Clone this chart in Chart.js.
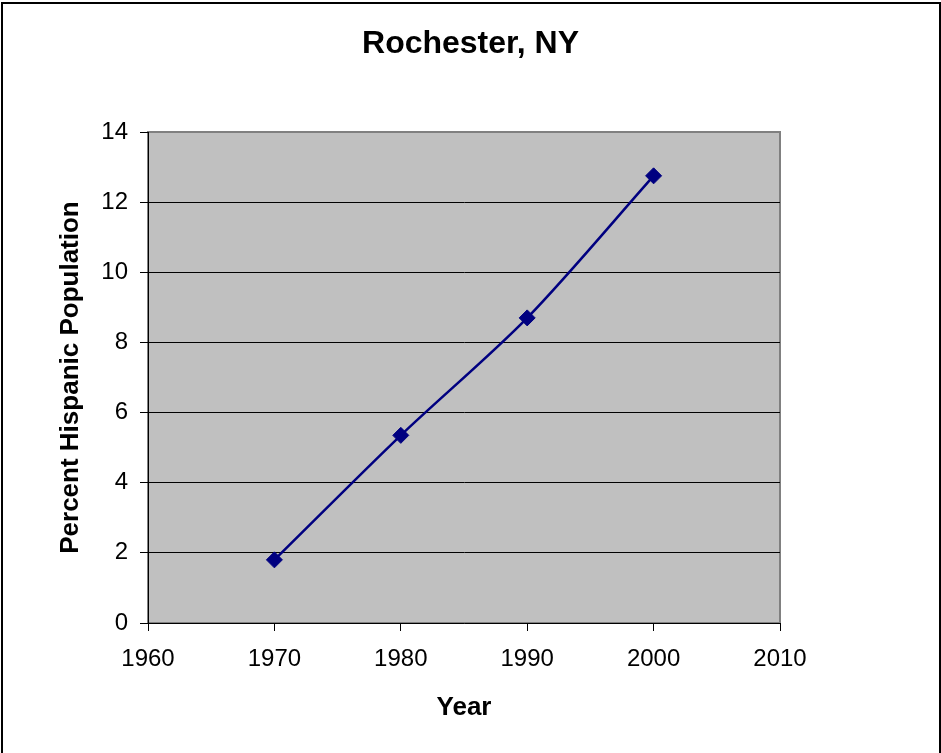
<!DOCTYPE html>
<html>
<head>
<meta charset="utf-8">
<script src="https://cdn.jsdelivr.net/npm/chart.js@4/dist/chart.umd.min.js"></script>
<style>
  html, body { margin: 0; padding: 0; background: #fff; }
  #wrap { width: 941px; height: 753px; position: relative; }
</style>
</head>
<body>
<div id="wrap"><canvas id="c" width="941" height="753"></canvas></div>
<script>
const years = [1970, 1980, 1990, 2000];
const percentHispanic = [1.8, 5.35, 8.7, 12.75];
const xTickLabels = ['1960', '1970', '1980', '1990', '2000', '2010'];
const yTickLabels = ['0', '2', '4', '6', '8', '10', '12', '14'];

const FONT = "'Liberation Sans', Arial, sans-serif";

const frame = {
  id: 'frame',
  beforeDraw(chart) {
    const {ctx, chartArea: a} = chart;
    ctx.save();
    ctx.fillStyle = '#C0C0C0';
    ctx.fillRect(a.left, a.top, a.right - a.left, a.bottom - a.top);
    ctx.strokeStyle = '#808080';
    ctx.lineWidth = 2;
    ctx.strokeRect(a.left, a.top, a.right - a.left, a.bottom - a.top);
    ctx.restore();
  },
  afterDraw(chart) {
    const ctx = chart.ctx;
    ctx.save();
    ctx.fillStyle = '#000';
    ctx.fillRect(1, 2, 2, 760);
    ctx.fillRect(1, 2, 940, 2);
    ctx.fillRect(939, 2, 2, 760);
    ctx.restore();
  }
};

new Chart(document.getElementById('c'), {
  type: 'scatter',
  data: {
    datasets: [{
      data: years.map((y, i) => ({x: y, y: percentHispanic[i]})),
      showLine: true,
      borderColor: '#000080',
      backgroundColor: '#000080',
      borderWidth: 2.5,
      tension: 0.3,
      pointStyle: 'rectRot',
      pointRadius: 8,
      pointBorderWidth: 1,
      pointBackgroundColor: '#000080',
      pointBorderColor: '#000080'
    }]
  },
  options: {
    responsive: false,
    animation: false,
    layout: { padding: 0 },
    plugins: {
      legend: { display: false },
      tooltip: { enabled: false },
      title: {
        display: true,
        text: 'Rochester, NY',
        color: '#000',
        font: { family: FONT, size: 32, weight: 'bold' },
        padding: { top: 25, bottom: 68.6 }
      }
    },
    scales: {
      x: {
        type: 'linear',
        min: 1960, max: 2010,
        afterFit(s) { s.height = 130; },
        ticks: {
          stepSize: 10,
          color: '#000',
          padding: 14,
          maxRotation: 0,
          font: { family: FONT, size: 24 },
          callback: (v) => { const i = xTickLabels.indexOf(String(v)); return i >= 0 ? xTickLabels[i] : ''; }
        },
        grid: { drawOnChartArea: false, drawTicks: true, tickLength: 8, tickColor: '#000' },
        border: { display: true, color: '#000', width: 1 },
        title: {
          display: true, text: 'Year', color: '#000',
          font: { family: FONT, size: 26, weight: 'bold' },
          padding: { top: 0, bottom: 30 }
        }
      },
      y: {
        type: 'linear',
        min: 0, max: 14,
        afterFit(s) { s.width = 148; },
        ticks: {
          stepSize: 2,
          color: '#000',
          padding: 12,
          font: { family: FONT, size: 24 },
          callback: (v) => { const i = yTickLabels.indexOf(String(v)); return i >= 0 ? yTickLabels[i] : ''; }
        },
        grid: {
          drawOnChartArea: true, drawTicks: true, tickLength: 8, tickColor: '#000',
          color: (c) => (c.tick && (c.tick.value === 14 || c.tick.value === 0)) ? 'rgba(0,0,0,0)' : '#000',
          lineWidth: 1
        },
        border: { display: true, color: '#000', width: 1 },
        title: {
          display: true, text: 'Percent Hispanic Population', color: '#000',
          font: { family: FONT, size: 26, weight: 'bold' },
          padding: { top: 55, bottom: 0 }
        }
      },
      yRight: {
        type: 'linear',
        position: 'right',
        min: 0, max: 14,
        afterFit(s) { s.width = 161; },
        ticks: { display: false },
        grid: { display: false },
        border: { display: false }
      }
    }
  },
  plugins: [frame]
});
</script>
</body>
</html>
